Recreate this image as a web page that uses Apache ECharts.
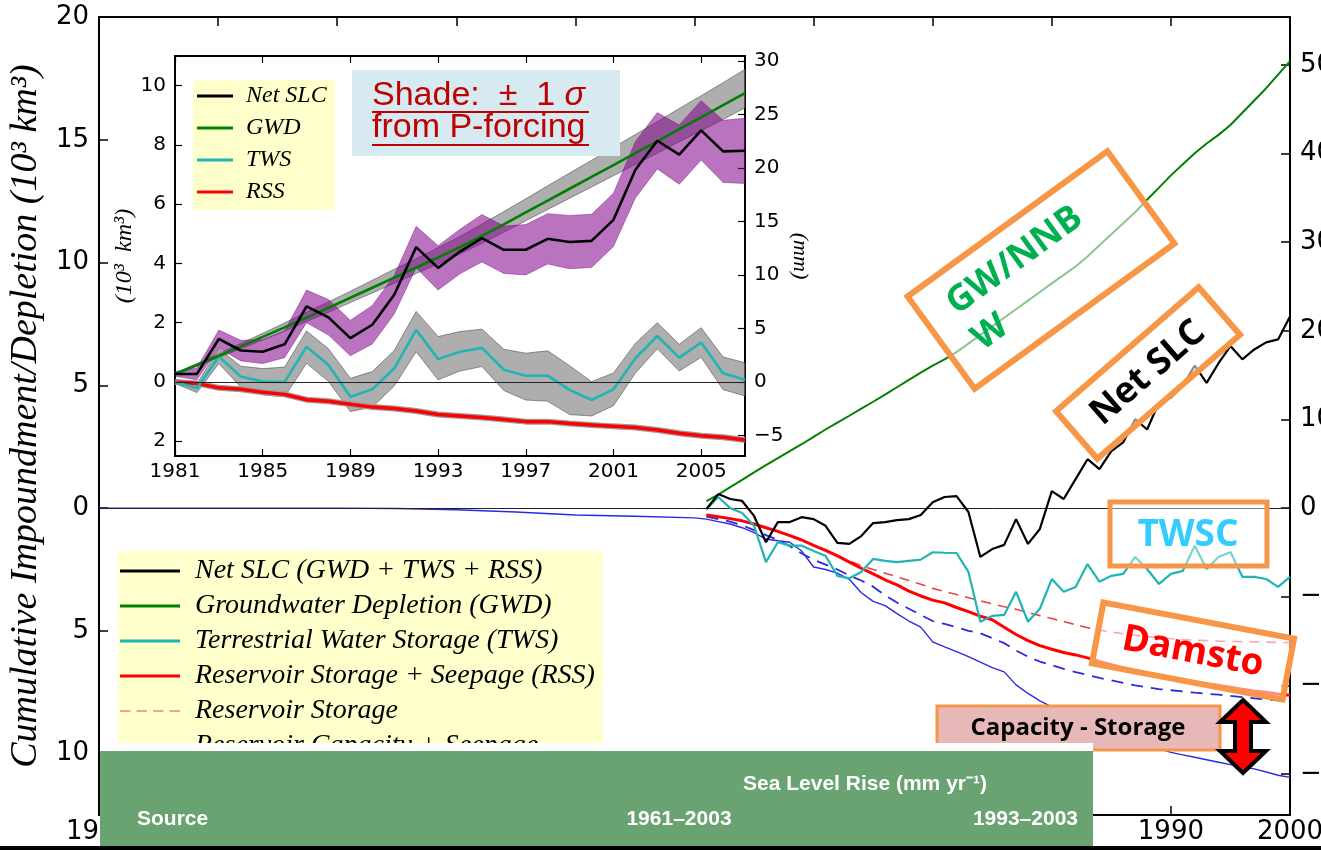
<!DOCTYPE html>
<html>
<head>
<meta charset="utf-8">
<title>Cumulative Impoundment / Depletion</title>
<script src="https://cdn.jsdelivr.net/npm/echarts@6.0.0/dist/echarts.min.js"></script>
<style>
  html, body { margin: 0; padding: 0; background: #fff; }
  #chart { width: 1321px; height: 850px; }
</style>
</head>
<body>
<div id="chart"></div>
<script>
// ---- main chart data (10^3 km^3, 1951-2000) ----
const mainYears = [1951,1952,1953,1954,1955,1956,1957,1958,1959,1960,
  1961,1962,1963,1964,1965,1966,1967,1968,1969,1970,
  1971,1972,1973,1974,1975,1976,1977,1978,1979,1980,
  1981,1982,1983,1984,1985,1986,1987,1988,1989,1990,
  1991,1992,1993,1994,1995,1996,1997,1998,1999,2000];
const netSlc = [-0.04,0.57,0.37,0.29,-0.32,-1.39,-0.57,-0.57,-0.37,-0.45,
  -0.72,-1.42,-1.46,-1.14,-0.61,-0.57,-0.49,-0.45,-0.28,0.24,
  0.45,0.49,-0.16,-1.99,-1.67,-1.5,-0.45,-1.46,-0.85,0.69,
  0.37,1.18,1.99,1.59,2.32,2.68,3.62,3.2,4.3,4.5,
  5.0,5.8,5.1,5.9,6.6,6.06,6.46,6.75,6.87,7.8];
const gwdMain = [0.28,0.55,0.85,1.15,1.45,1.75,2.03,2.32,2.6,2.9,
  3.2,3.48,3.76,4.05,4.33,4.62,4.92,5.22,5.52,5.8,
  6.06,6.35,6.7,7.05,7.4,7.75,8.1,8.45,8.8,9.15,
  9.5,9.84,10.25,10.7,11.15,11.6,12.05,12.56,13.05,13.55,
  14.0,14.45,14.85,15.2,15.6,16.1,16.6,17.1,17.65,18.2];
const twsMain = [-0.05,0.45,0.0,-0.2,-0.72,-2.2,-1.39,-1.53,-1.53,-1.75,
  -1.94,-2.76,-2.86,-2.6,-2.07,-2.15,-2.2,-2.15,-2.1,-1.8,
  -1.82,-1.83,-2.6,-4.63,-4.39,-4.35,-3.41,-4.63,-4.1,-2.89,
  -3.41,-3.21,-2.28,-3.0,-2.76,-2.68,-1.99,-2.48,-3.09,-2.68,
  -2.56,-1.53,-2.48,-1.99,-1.79,-2.8,-2.8,-2.89,-3.21,-2.8];
const rssMain = [-0.28,-0.35,-0.43,-0.52,-0.65,-0.8,-0.95,-1.12,-1.3,-1.52,
  -1.72,-1.95,-2.2,-2.45,-2.68,-2.92,-3.13,-3.38,-3.58,-3.75,
  -3.86,-4.05,-4.22,-4.4,-4.55,-4.85,-5.15,-5.4,-5.6,-5.75,
  -5.88,-5.98,-6.1,-6.25,-6.38,-6.5,-6.62,-6.72,-6.82,-6.92,
  -7.0,-7.08,-7.15,-7.22,-7.3,-7.38,-7.45,-7.5,-7.57,-7.62];
const resStorage = [-0.28,-0.35,-0.43,-0.52,-0.65,-0.8,-0.95,-1.1,-1.3,-1.5,
  -1.7,-1.92,-2.14,-2.35,-2.5,-2.65,-2.8,-2.95,-3.1,-3.27,
  -3.4,-3.52,-3.65,-3.78,-3.9,-4.02,-4.12,-4.25,-4.38,-4.5,
  -4.62,-4.75,-4.87,-4.97,-5.05,-5.12,-5.18,-5.24,-5.28,-5.32,
  -5.35,-5.38,-5.4,-5.42,-5.43,-5.44,-5.45,-5.46,-5.47,-5.48];
const resCapacity = [-0.35,-0.45,-0.55,-0.7,-0.9,-1.1,-1.3,-1.55,-1.85,-2.1,
  -2.3,-2.5,-2.75,-2.95,-3.2,-3.55,-3.85,-4.1,-4.35,-4.6,
  -4.72,-4.85,-5.0,-5.1,-5.3,-5.5,-5.8,-6.05,-6.25,-6.4,
  -6.55,-6.68,-6.8,-6.92,-7.02,-7.12,-7.22,-7.3,-7.37,-7.42,
  -7.47,-7.52,-7.56,-7.6,-7.65,-7.7,-7.75,-7.8,-7.83,-7.86];
// capacity + seepage goes back to 1900
const capYears = [1900,1905,1910,1915,1920,1925,1930,1935,1940,1945,1950].concat(mainYears);
const capSeepage = [0,0,0,0,0,-0.02,-0.07,-0.16,-0.28,-0.33,-0.40,
  -0.45,-0.55,-0.65,-0.8,-1.0,-1.26,-1.33,-1.39,-1.75,-2.4,
  -2.5,-2.65,-2.9,-3.45,-3.8,-3.97,-4.3,-4.6,-4.85,-5.45,
  -5.65,-5.85,-6.05,-6.27,-6.5,-6.67,-7.2,-7.55,-7.85,-8.1,
  -8.3,-8.5,-8.7,-8.85,-9.05,-9.25,-9.4,-9.6,-9.8,-9.95,
  -10.05,-10.15,-10.25,-10.35,-10.45,-10.55,-10.62,-10.75,-10.88,-10.97];

// ---- inset data (1981-2007) ----
const insetYears = [1981,1982,1983,1984,1985,1986,1987,1988,1989,1990,1991,1992,1993,1994,
  1995,1996,1997,1998,1999,2000,2001,2002,2003,2004,2005,2006,2007];
const slc = [0.27,0.27,1.45,1.06,1.02,1.27,2.55,2.18,1.48,1.93,2.94,4.55,3.85,4.4,
  4.85,4.46,4.46,4.83,4.72,4.76,5.47,7.16,8.14,7.67,8.49,7.78,7.8];
const slcUpper = [0.35,0.47,1.75,1.41,1.42,1.72,3.10,2.78,2.08,2.58,3.59,5.25,4.6,5.15,
  5.65,5.26,5.31,5.68,5.62,5.66,6.37,8.11,9.09,8.67,9.49,8.83,8.9];
const slcLower = [0.19,0.07,1.15,0.71,0.62,0.82,2.0,1.58,0.88,1.28,2.29,3.85,3.1,3.65,
  4.05,3.66,3.61,3.98,3.82,3.86,4.57,6.21,7.19,6.67,7.49,6.73,6.7];
const gwd = [0.27,0.57,0.88,1.2,1.52,1.84,2.17,2.5,2.84,3.18,3.52,3.86,4.2,4.55,
  4.93,5.32,5.72,6.12,6.52,6.92,7.32,7.72,8.12,8.53,8.93,9.34,9.75];
const gwdUpper = [0.29,0.62,0.96,1.3,1.64,1.99,2.35,2.7,3.06,3.43,3.8,4.16,4.53,4.91,
  5.33,5.75,6.18,6.62,7.05,7.48,7.92,8.35,8.78,9.23,9.66,10.1,10.55];
const gwdLower = [0.25,0.53,0.82,1.12,1.42,1.72,2.04,2.35,2.68,3.0,3.33,3.66,3.98,4.32,
  4.68,5.05,5.44,5.82,6.2,6.58,6.96,7.34,7.72,8.11,8.48,8.86,9.25];
const tws = [0,-0.21,0.86,0.18,0.01,0,1.19,0.57,-0.5,-0.25,0.46,1.76,0.77,1.02,
  1.15,0.41,0.21,0.21,-0.27,-0.61,-0.25,0.8,1.55,0.82,1.33,0.29,0.07];
const twsUpper = [0.05,-0.06,1.12,0.53,0.45,0.5,1.72,1.12,0.12,0.35,1.06,2.38,1.53,1.7,
  1.78,1.1,0.97,1.05,0.55,0.01,0.3,1.3,2.0,1.27,1.83,0.84,0.65];
const twsLower = [-0.05,-0.36,0.62,-0.17,-0.43,-0.5,0.63,0.02,-1.0,-0.85,-0.14,1.02,0.07,0.37,
  0.52,-0.29,-0.61,-0.65,-1.1,-1.15,-0.8,0.3,1.12,0.37,0.83,-0.26,-0.47];
const rss = [0,-0.05,-0.2,-0.25,-0.35,-0.42,-0.6,-0.65,-0.75,-0.85,-0.9,-0.98,-1.1,-1.15,
  -1.2,-1.27,-1.34,-1.34,-1.4,-1.45,-1.5,-1.54,-1.62,-1.73,-1.82,-1.87,-1.96];

// tick labels
const mainLeftTicks = [-10,-5,0,5,10,15,20];
const mainRightTicks = [-30,-20,-10,0,10,20,30,40,50];
const insetLeftTicks = [-2,0,2,4,6,8,10];
const insetRightTicks = [-5,0,5,10,15,20,25,30];
const insetYearTicks = [1981,1985,1989,1993,1997,2001,2005];

const MM_PER_KM3 = 2.77; // 10^3 km^3 of water -> mm of sea level

const pairs = (xs, ys) => xs.map((x, i) => [x, ys[i]]);
const absFmt = v => String(Math.abs(v));
const minusFmt = v => (v < 0 ? '\u2212' + Math.abs(v) : String(v));
const serifIt = { fontFamily: 'Liberation Serif', fontStyle: 'italic', color: '#000' };
const tickFont = { fontFamily: 'DejaVu Sans', color: '#000' };
const DASH_ICON = 'path://M0,0H10V1H0Z M16,0H26V1H16Z M32,0H42V1H32Z M48,0H58V1H48Z';

const chart = echarts.init(document.getElementById('chart'));

function mainLine(name, xs, ys, color, width, type, z) {
  return {
    name: name, type: 'line', xAxisIndex: 0, yAxisIndex: 0,
    data: pairs(xs, ys), symbol: 'none', color: color, z: z || 3,
    lineStyle: { color: color, width: width, type: type || 'solid' }
  };
}

// +-1 sigma shading in the inset, drawn as one polygon
function insetBand(lower, upper, fill, edge) {
  return {
    type: 'custom', xAxisIndex: 2, yAxisIndex: 2, silent: true, z: 2,
    data: insetYears.map((y, i) => [y, lower[i], upper[i]]),
    encode: { x: 0, y: [1, 2] },
    renderItem: (params, api) => {
      if (params.dataIndex !== 0) return null;
      const top = insetYears.map((y, i) => api.coord([y, upper[i]]));
      const bot = insetYears.map((y, i) => api.coord([y, lower[i]])).reverse();
      return {
        type: 'polygon', shape: { points: top.concat(bot) },
        style: { fill: fill, stroke: edge || 'none', lineWidth: 1 }
      };
    }
  };
}

function insetLine(name, ys, color, width, z) {
  return {
    name: name, type: 'line', xAxisIndex: 2, yAxisIndex: 2,
    data: pairs(insetYears, ys), symbol: 'none', color: color, z: z || 4,
    lineStyle: { color: color, width: width }
  };
}

const zeroLine = (w) => ({
  silent: true, symbol: ['none', 'none'], label: { show: false },
  lineStyle: { color: '#222', width: w, type: 'solid' },
  data: [{ yAxis: 0 }]
});

// orange annotation boxes
function tiltedBox(cx, cy, w, h, deg, texts) {
  return {
    type: 'group', x: cx, y: cy, rotation: deg * Math.PI / 180, z: 100,
    children: [{
      type: 'rect', z: 100,
      shape: { x: -w / 2, y: -h / 2, width: w, height: h },
      style: { fill: 'rgba(255,255,255,0.55)', stroke: '#f79646', lineWidth: 6 }
    }].concat(texts.map(t => ({
      type: 'text', x: t.x, y: t.y, z: 101,
      style: {
        text: t.text, fill: t.color, align: t.align || 'center', verticalAlign: 'middle',
        fontFamily: 'Open Sans', fontWeight: 'bold', fontSize: t.size
      }
    })))
  };
}

const tableFont = { fontFamily: 'Liberation Sans', fontWeight: 'bold', fontSize: 21, fill: '#fff' };
const ticksOut = (len, w, vals) => ({ inside: true, length: len, customValues: vals, lineStyle: { color: '#000', width: w } });

const option = {
  animation: false,
  backgroundColor: '#fff',
  grid: [
    { left: 99, top: 17, width: 1191, height: 798, outerBoundsMode: 'none', containLabel: false,
      show: true, borderColor: '#000', borderWidth: 2, backgroundColor: 'transparent' },
    { left: 175, top: 56, width: 570, height: 400, outerBoundsMode: 'none', containLabel: false,
      show: true, borderColor: '#000', borderWidth: 2, backgroundColor: '#fff' }
  ],
  legend: [
    {
      data: [
        { name: 'Net SLC (GWD + TWS + RSS)', icon: 'rect' },
        { name: 'Groundwater Depletion (GWD)', icon: 'rect' },
        { name: 'Terrestrial Water Storage (TWS)', icon: 'rect' },
        { name: 'Reservoir Storage + Seepage (RSS)', icon: 'rect' },
        { name: 'Reservoir Storage', icon: DASH_ICON },
        { name: 'Reservoir Capacity + Seepage', icon: 'rect' }
      ],
      orient: 'vertical', left: 118, top: 551, padding: [6, 8, 8, 2],
      backgroundColor: '#ffffcc', borderRadius: 4, selectedMode: false,
      itemWidth: 60, itemHeight: 3, itemGap: 7,
      textStyle: Object.assign({ fontSize: 28, lineHeight: 28, padding: [0, 0, 0, 10] }, serifIt)
    },
    {
      data: [
        { name: 'Net SLC', icon: 'rect' }, { name: 'GWD', icon: 'rect' },
        { name: 'TWS', icon: 'rect' }, { name: 'RSS', icon: 'rect' }
      ],
      orient: 'vertical', left: 193, top: 80, padding: [4, 8, 6, 4],
      backgroundColor: '#ffffcc', borderRadius: 4, selectedMode: false,
      itemWidth: 36, itemHeight: 3, itemGap: 8,
      textStyle: Object.assign({ fontSize: 24, lineHeight: 23, padding: [0, 0, 0, 8] }, serifIt)
    }
  ],
  xAxis: [
    {
      type: 'value', gridIndex: 0, min: 1900, max: 2000, interval: 10, position: 'bottom',
      axisLine: { show: false, onZero: false }, splitLine: { show: false },
      axisTick: { inside: true, length: 9, lineStyle: { color: '#000', width: 1.5 } },
      axisLabel: Object.assign({ fontSize: 26, margin: 4, formatter: v => String(v) }, tickFont)
    },
    {
      type: 'value', gridIndex: 0, min: 1900, max: 2000, interval: 10, position: 'top',
      axisLine: { show: false, onZero: false }, splitLine: { show: false }, axisLabel: { show: false },
      axisTick: { inside: true, length: 9, lineStyle: { color: '#000', width: 1.5 } }
    },
    {
      type: 'value', gridIndex: 1, min: 1981, max: 2007, position: 'bottom',
      axisLine: { show: false, onZero: false }, splitLine: { show: false },
      axisTick: ticksOut(7, 1.2, insetYearTicks),
      axisLabel: Object.assign({ fontSize: 20, margin: 6, customValues: insetYearTicks, formatter: v => String(v) }, tickFont)
    },
    {
      type: 'value', gridIndex: 1, min: 1981, max: 2007, position: 'top',
      axisLine: { show: false, onZero: false }, splitLine: { show: false }, axisLabel: { show: false },
      axisTick: ticksOut(7, 1.2, insetYearTicks)
    }
  ],
  yAxis: [
    {
      type: 'value', gridIndex: 0, min: -12.5, max: 20, position: 'left',
      axisLine: { show: false, onZero: false }, splitLine: { show: false },
      axisTick: ticksOut(9, 1.5, mainLeftTicks),
      axisLabel: Object.assign({ fontSize: 26, margin: 10, customValues: mainLeftTicks, formatter: absFmt }, tickFont),
      name: 'Cumulative Impoundment/Depletion (10\u00b3 km\u00b3)',
      nameLocation: 'middle', nameRotate: 90, nameGap: 51,
      nameTextStyle: Object.assign({ fontSize: 38 }, serifIt)
    },
    {
      type: 'value', gridIndex: 0, min: -12.5 * MM_PER_KM3, max: 20 * MM_PER_KM3, position: 'right',
      axisLine: { show: false, onZero: false }, splitLine: { show: false },
      axisTick: ticksOut(9, 1.5, mainRightTicks),
      axisLabel: Object.assign({ fontSize: 26, margin: 10, customValues: mainRightTicks, formatter: minusFmt }, tickFont)
    },
    {
      type: 'value', gridIndex: 1, min: -2.5, max: 11, position: 'left',
      axisLine: { show: false, onZero: false }, splitLine: { show: false },
      axisTick: ticksOut(7, 1.2, insetLeftTicks),
      axisLabel: Object.assign({ fontSize: 20, margin: 9, customValues: insetLeftTicks, formatter: absFmt }, tickFont),
      name: '(10\u00b3  km\u00b3)', nameLocation: 'middle', nameRotate: 90, nameGap: 31,
      nameTextStyle: Object.assign({ fontSize: 24 }, serifIt)
    },
    {
      type: 'value', gridIndex: 1, min: -2.5 * MM_PER_KM3, max: 11 * MM_PER_KM3, position: 'right',
      axisLine: { show: false, onZero: false }, splitLine: { show: false },
      axisTick: ticksOut(7, 1.2, insetRightTicks),
      axisLabel: Object.assign({ fontSize: 20, margin: 9, customValues: insetRightTicks, formatter: minusFmt }, tickFont),
      name: '(mm)', nameLocation: 'middle', nameRotate: -90, nameGap: 44,
      nameTextStyle: Object.assign({ fontSize: 22 }, serifIt)
    }
  ],
  series: [
    Object.assign(mainLine('Groundwater Depletion (GWD)', mainYears, gwdMain, '#008000', 2), { markLine: zeroLine(1) }),
    mainLine('Reservoir Storage', mainYears, resStorage, '#e8474a', 1.6, [10, 7]),
    mainLine('Reservoir Capacity', mainYears, resCapacity, '#2a2ae0', 1.8, [12, 8]),
    mainLine('Reservoir Capacity + Seepage', capYears, capSeepage, '#2a2ae0', 1.4, 'solid', 4),
    mainLine('Reservoir Storage + Seepage (RSS)', mainYears, rssMain, '#ff0000', 3, 'solid', 4),
    mainLine('Terrestrial Water Storage (TWS)', mainYears, twsMain, '#1fb5b3', 2.2, 'solid', 5),
    mainLine('Net SLC (GWD + TWS + RSS)', mainYears, netSlc, '#000000', 2.2, 'solid', 6),
    insetBand(gwdLower, gwdUpper, 'rgba(120,120,120,0.6)', 'rgba(80,80,80,0.6)'),
    insetBand(twsLower, twsUpper, 'rgba(120,120,120,0.6)', 'rgba(80,80,80,0.6)'),
    insetBand(slcLower, slcUpper, 'rgba(130,0,137,0.55)', 'rgba(110,0,120,0.4)'),
    Object.assign(insetLine('rss edge', rss, '#9a9a9a', 6, 3), { silent: true }),
    insetLine('RSS', rss, '#ff0000', 3.5, 4),
    Object.assign(insetLine('TWS', tws, '#1fb5b3', 2.6, 4), { markLine: zeroLine(1) }),
    insetLine('GWD', gwd, '#008000', 2.6, 5),
    insetLine('Net SLC', slc, '#000000', 2.6, 6)
  ],
  graphic: [
    // shading note in the inset
    { type: 'rect', z: 90, shape: { x: 352, y: 70, width: 268, height: 86 }, style: { fill: '#d7eaf1' } },
    {
      type: 'text', z: 91, x: 372, y: 96,
      style: {
        text: 'Shade:  \u00b1  1 {i|\u03c3}', fill: '#c00000', verticalAlign: 'middle',
        fontFamily: 'Liberation Sans', fontSize: 34,
        rich: { i: { fontFamily: 'Liberation Sans', fontStyle: 'italic', fontSize: 34, fill: '#c00000' } }
      }
    },
    {
      type: 'text', z: 91, x: 372, y: 128,
      style: { text: 'from P-forcing', fill: '#c00000', verticalAlign: 'middle', fontFamily: 'Liberation Sans', fontSize: 34 }
    },
    { type: 'line', z: 91, shape: { x1: 372, y1: 112, x2: 589, y2: 112 }, style: { stroke: '#c00000', lineWidth: 2 } },
    { type: 'line', z: 91, shape: { x1: 372, y1: 145, x2: 589, y2: 145 }, style: { stroke: '#c00000', lineWidth: 2 } },

    tiltedBox(1041, 270, 247, 114, 36, [
      { text: 'GW/NNB', x: -95, y: -23, color: '#00b050', size: 36, align: 'left' },
      { text: 'W', x: -95, y: 21, color: '#00b050', size: 36, align: 'left' }
    ]),
    tiltedBox(1148, 373, 189, 63, 41, [{ text: 'Net SLC', x: 0, y: 0, color: '#000', size: 36 }]),
    tiltedBox(1193, 651, 194, 62, -10.7, [{ text: 'Damsto', x: 0, y: 1, color: '#ff0000', size: 37 }]),
    {
      type: 'group', z: 100, children: [
        { type: 'rect', z: 100, shape: { x: 1110, y: 502, width: 157, height: 64 }, style: { fill: 'rgba(255,255,255,0.4)', stroke: '#f79646', lineWidth: 5 } },
        { type: 'text', z: 101, x: 1188, y: 535, style: { text: 'TWSC', fill: '#33ccff', align: 'center', verticalAlign: 'middle', fontFamily: 'Open Sans', fontWeight: 'bold', fontSize: 37 } }
      ]
    },
    {
      type: 'group', z: 100, children: [
        { type: 'rect', z: 100, shape: { x: 937, y: 706, width: 283, height: 44 }, style: { fill: '#e6b9b8', stroke: '#f79646', lineWidth: 3 } },
        { type: 'text', z: 101, x: 1078, y: 728, style: { text: 'Capacity - Storage', fill: '#000', align: 'center', verticalAlign: 'middle', fontFamily: 'Open Sans', fontWeight: 'bold', fontSize: 24 } }
      ]
    },
    {
      type: 'polygon', z: 100,
      shape: { points: [[1243, 700], [1266, 722], [1251, 722], [1251, 751], [1266, 751], [1243, 773], [1220, 751], [1235, 751], [1235, 722], [1220, 722]] },
      style: { fill: '#ff0000', stroke: '#000', lineWidth: 4, lineJoin: 'miter' }
    },

    // sea level table pasted over the bottom
    { type: 'rect', z: 110, shape: { x: 100, y: 743, width: 993, height: 9 }, style: { fill: '#fff' } },
    { type: 'rect', z: 110, shape: { x: 100, y: 751, width: 993, height: 95 }, style: { fill: '#6aa372' } },
    { type: 'text', z: 111, x: 865, y: 784, style: Object.assign({ text: 'Sea Level Rise (mm yr\u207b\u00b9)', align: 'center', verticalAlign: 'middle' }, tableFont) },
    { type: 'text', z: 111, x: 137, y: 819, style: Object.assign({ text: 'Source', align: 'left', verticalAlign: 'middle' }, tableFont) },
    { type: 'text', z: 111, x: 679, y: 819, style: Object.assign({ text: '1961\u20132003', align: 'center', verticalAlign: 'middle' }, tableFont) },
    { type: 'text', z: 111, x: 1078, y: 819, style: Object.assign({ text: '1993\u20132003', align: 'right', verticalAlign: 'middle' }, tableFont) },
    { type: 'rect', z: 112, shape: { x: 0, y: 846, width: 1321, height: 4 }, style: { fill: '#000' } }
  ]
};

chart.setOption(option);
window.addEventListener('resize', () => chart.resize());
</script>
</body>
</html>
